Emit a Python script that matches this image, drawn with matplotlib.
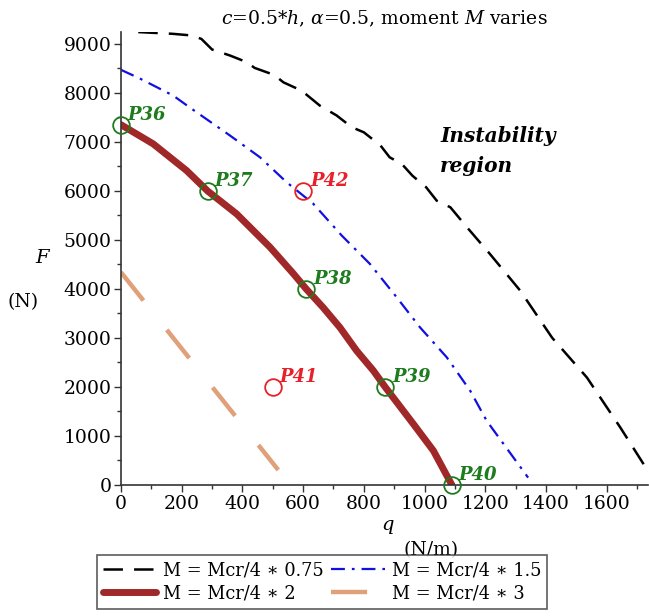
import matplotlib
matplotlib.use('Agg')
import matplotlib.pyplot as plt
from matplotlib.ticker import MultipleLocator

plt.rcParams['font.family'] = ['DejaVu Serif']
plt.rcParams['mathtext.fontset'] = 'dejavuserif'
plt.rcParams['lines.scale_dashes'] = False

# ---- data ----
q_075 = [57, 170, 235, 265, 300, 360, 415, 440, 505, 535, 595, 655, 710, 760, 800,
         855, 885, 925, 960, 1005, 1040, 1085, 1140, 1215, 1315, 1420, 1535, 1645, 1765]
F_075 = [9240, 9205, 9170, 9100, 8885, 8760, 8625, 8510, 8365, 8215, 8045, 7740, 7540, 7300, 7195,
         6925, 6685, 6550, 6310, 6075, 5800, 5665, 5255, 4715, 3965, 3005, 2190, 1170, 0]

q_15 = [0, 63, 172, 227, 359, 458, 546, 633, 727, 820, 908, 985, 1073, 1150, 1205, 1341]
F_15 = [8470, 8290, 7945, 7700, 7130, 6685, 6175, 5740, 5090, 4510, 3830, 3215, 2605, 1925, 1305, 150]

q_2 = [0, 106, 216, 285, 381, 491, 568, 610, 666, 721, 776, 831, 870, 963, 1029, 1090]
F_2 = [7350, 6960, 6415, 6000, 5530, 4850, 4310, 4000, 3620, 3215, 2740, 2335, 2000, 1245, 700, 0]

q_3 = [0, 518]
F_3 = [4340, 306]

stable_names = ['P36', 'P37', 'P38', 'P39', 'P40']
stable_q = [0, 285, 610, 870, 1090]
stable_F = [7350, 6000, 4000, 2000, 0]

unstable_names = ['P41', 'P42']
unstable_q = [500, 600]
unstable_F = [2000, 6000]

green = '#1E7B1E'
red = '#E8202A'

fig = plt.figure(figsize=(6.49, 6.16), dpi=100)
ax = fig.add_axes([0.1864, 0.2127, 0.8121, 0.7360])

l1, = ax.plot(q_075, F_075, color='black', lw=1.8, linestyle=(0, (14, 8)),
              label='M = Mcr/4 \u2217 0.75')
l2, = ax.plot(q_15, F_15, color='#1010E0', lw=1.6, linestyle=(0, (10, 5, 2, 5)),
              label='M = Mcr/4 \u2217 1.5')
l3, = ax.plot(q_2, F_2, color='#A02828', lw=5, solid_capstyle='round', solid_joinstyle='round',
              label='M = Mcr/4 \u2217 2')
l4, = ax.plot(q_3, F_3, color='#E0A07A', lw=3.2, linestyle=(0, (26, 27)),
              label='M = Mcr/4 \u2217 3')

ax.plot(stable_q, stable_F, 'o', ms=12, mfc='none', mec=green, mew=1.3, clip_on=False, zorder=5)
ax.plot(unstable_q, unstable_F, 'o', ms=12, mfc='none', mec=red, mew=1.3, clip_on=False, zorder=5)
for name, x, y in zip(stable_names, stable_q, stable_F):
    ax.annotate(name, (x, y), xytext=(5, 3.5), textcoords='offset points', va='baseline',
                color=green, fontsize=13, fontweight='bold', fontstyle='italic', annotation_clip=False)
for name, x, y in zip(unstable_names, unstable_q, unstable_F):
    ax.annotate(name, (x, y), xytext=(5, 3.5), textcoords='offset points', va='baseline',
                color=red, fontsize=13, fontweight='bold', fontstyle='italic')

ax.text(1051, 6810, 'Instability\nregion', fontsize=14.5, fontweight='bold', fontstyle='italic',
        ha='left', va='center', linespacing=1.6)

ax.set_xlim(0, 1736)
ax.set_ylim(0, 9250)
ax.xaxis.set_major_locator(MultipleLocator(200))
ax.xaxis.set_minor_locator(MultipleLocator(100))
ax.yaxis.set_major_locator(MultipleLocator(1000))
ax.yaxis.set_minor_locator(MultipleLocator(500))
for s in ['top', 'right']:
    ax.spines[s].set_visible(False)
for s in ['left', 'bottom']:
    ax.spines[s].set_color('#333333')
    ax.spines[s].set_linewidth(1.2)
ax.tick_params(which='major', length=5, width=1, color='#333333', labelsize=13.5, pad=2)
ax.tick_params(which='minor', length=3, width=1, color='#333333')

fig.text(0.592, 0.969, r'$c$=0.5*$h$, $\alpha$=0.5, moment $M$ varies', ha='center', va='center',
         fontsize=13.5)
fig.text(0.066, 0.581, r'$F$', ha='center', va='center', fontsize=14)
fig.text(0.036, 0.510, '(N)', ha='center', va='center', fontsize=13.5)
fig.text(0.597, 0.144, r'$q$', ha='center', va='center', fontsize=14)
fig.text(0.664, 0.107, '(N/m)', ha='center', va='center', fontsize=13.5)

leg = fig.legend(handles=[l1, l3, l2, l4], ncol=2, loc='upper left',
                 bbox_to_anchor=(0.149, 0.099), fontsize=12.8, frameon=True, fancybox=False,
                 edgecolor='#333333', handlelength=3.0, handletextpad=0.4, columnspacing=0.4,
                 borderpad=0.35, labelspacing=0.3, borderaxespad=0)
leg.get_frame().set_linewidth(1.2)

plt.savefig('out.png', dpi=100, facecolor='white')
